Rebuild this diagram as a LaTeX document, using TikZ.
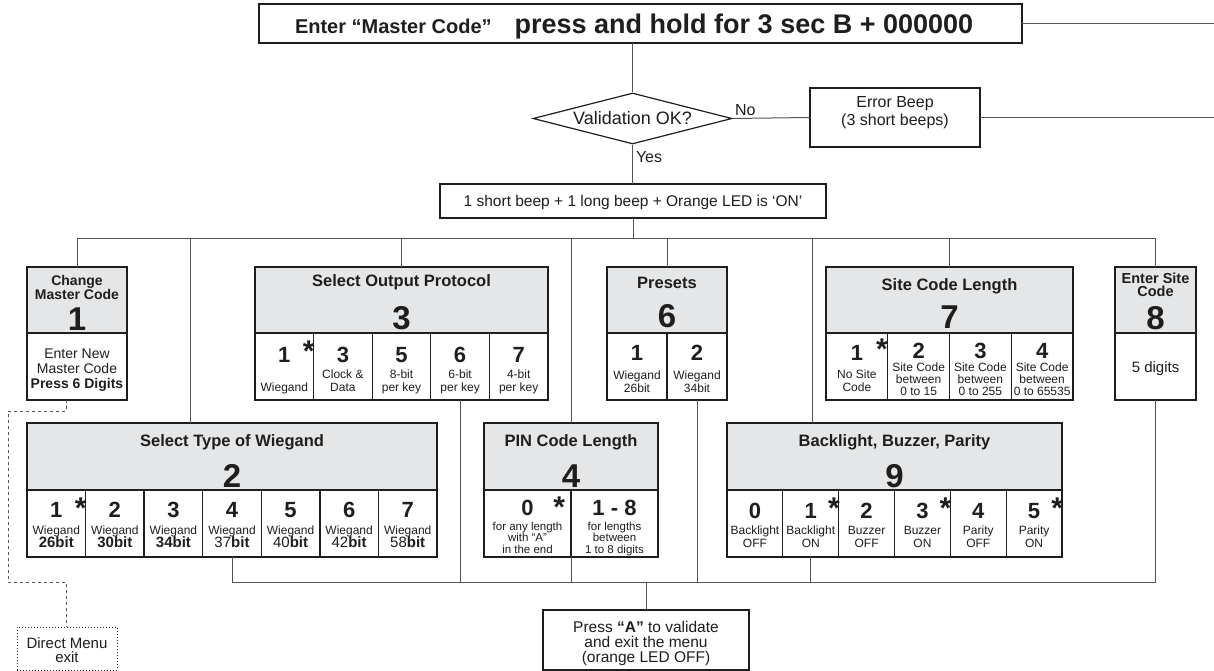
\documentclass[tikz,border=0pt]{standalone}
\usepackage{fontspec}
\setmainfont{Liberation Sans}
\usetikzlibrary{shapes.geometric,calc}
\definecolor{ink}{HTML}{1E1E1E}
\definecolor{hdr}{HTML}{E5E6E7}
\definecolor{wirec}{HTML}{555555}
\newcommand\fs[1]{\fontsize{#1}{#1}\selectfont}
\newcommand\ML[2]{\vbox{\baselineskip=#1\lineskiplimit=-\maxdimen\lineskip=0pt\halign{\hfil##\hfil\cr#2\crcr}}}
\newcommand\rbox[6]{\pgfmathsetmacro\rbw{#5-#3}\pgfmathsetmacro\rbh{#6-#4}%
  \node[#1, minimum width=\rbw pt, minimum height=\rbh pt] (#2) at (#3,#4) {};}
\newcommand\cellx[9]{\rbox{frame}{#1}{#2}{#4}{#3}{#5}%
  \node[txt,celld] (#1d) at ($(#1.north)+(0,#7)$) {#6};%
  \node[txt,small] (#1t) at ($(#1.south)+(0,-#8)$) {#9};}
\tikzset{
  frame/.style={draw=ink, line width=1.3pt, inner sep=0, outer sep=0, anchor=north west},
  head/.style={frame, fill=hdr},
  wire/.style={draw=wirec, line width=1pt},
  txt/.style={inner sep=0, outer sep=0, text=ink, anchor=base},
  hfont/.style={font=\bfseries\fs{16.5}},
  bigd/.style={font=\bfseries\fs{33}},
  celld/.style={font=\bfseries\fs{22}},
  small/.style={font=\fs{12}},
  star/.style={inner sep=0, outer sep=0, text=ink, anchor=base east, text depth=0pt, font=\bfseries\fs{30}},
}
\begin{document}
\begin{tikzpicture}[x=1pt,y=-1pt]
\useasboundingbox (0,0) rectangle (1214,671);
\fill[white] (0,0) rectangle (1214,671);

% ---------- top part ----------
\rbox{frame}{top}{259}{4}{1022}{43}
\node[txt,anchor=base west] (toptxt) at (295,34) {{\bfseries\fs{20}Enter “Master Code”}\hspace{23pt}{\bfseries\fs{27}press and hold for 3 sec B + 000000}};
\coordinate (exit1) at (1214,23.5);
\draw[wire] (top.east) -- (exit1);

\node[draw=ink, line width=1.2pt, diamond, aspect=3.9, minimum width=199pt, minimum height=51pt, inner sep=0, font=\fs{18}, text=ink] (diam) at (632.5,118.5) {Validation OK?};
\draw[wire] (top.south -| diam.north) -- (diam.north);
\node[txt,anchor=base west,font=\fs{16}] (no) at (735,116) {No};
\rbox{frame}{err}{810}{88}{980}{147}
\node[txt,font=\fs{16}] (errt) at (895,126) {\ML{18pt}{Error Beep\cr(3 short beeps)}};
\draw[wire] (diam.east) -- (err.west);
\coordinate (exit2) at (1214,117.5);
\draw[wire] (err.east) -- (exit2);
\node[txt,anchor=base west,font=\fs{16}] (yes) at (636,163) {Yes};
\rbox{frame}{beep}{440}{184}{826}{218}
\node[txt,font=\fs{15.5}] (beept) at (633,206) {1 short beep + 1 long beep + Orange LED is ‘ON’};
\draw[wire] (diam.south) -- (diam.south |- beep.north);

% ---------- box 1 ----------
\rbox{head}{b1h}{27}{267}{127}{333}
\node[txt,font=\bfseries\fs{14}] (b1ht) at (77,299) {\ML{13.5pt}{Change\cr Master Code}};
\node[txt,bigd] (b1hd) at (77,330) {1};
\rbox{frame}{b1b}{27}{333}{127}{400}
\node[txt,font=\fs{14}] (b1bt) at (77,388) {\ML{15pt}{Enter New\cr Master Code\cr\textbf{Press 6 Digits}}};

% ---------- box 3 ----------
\rbox{head}{b3h}{255}{267}{548}{333}
\node[txt,hfont] (b3ht) at (401.5,286) {Select Output Protocol};
\node[txt,bigd] (b3hd) at (401.5,329) {3};
\cellx{b3c1}{255}{313.6}{333}{400}{1}{29}{9}{Wiegand}
\cellx{b3c2}{313.6}{372.2}{333}{400}{3}{29}{9}{\ML{12.5pt}{Clock \&\cr Data}}
\cellx{b3c3}{372.2}{430.8}{333}{400}{5}{29}{9}{\ML{12.5pt}{8-bit\cr per key}}
\cellx{b3c4}{430.8}{489.4}{333}{400}{6}{29}{9}{\ML{12.5pt}{6-bit\cr per key}}
\cellx{b3c5}{489.4}{548}{333}{400}{7}{29}{9}{\ML{12.5pt}{4-bit\cr per key}}
\node[star] (b3s) at ($(b3c1.north east)+(1,28)$) {*};

% ---------- box 6 ----------
\rbox{head}{b6h}{607}{267}{727}{333}
\node[txt,hfont] (b6ht) at (667,288) {Presets};
\node[txt,bigd] (b6hd) at (667,327) {6};
\cellx{b6c1}{607}{667}{333}{400}{1}{27}{8}{\ML{12.5pt}{Wiegand\cr 26bit}}
\cellx{b6c2}{667}{727}{333}{400}{2}{27}{8}{\ML{12.5pt}{Wiegand\cr 34bit}}

% ---------- box 7 ----------
\rbox{head}{b7h}{826}{267}{1073}{333}
\node[txt,hfont] (b7ht) at (949.5,290) {Site Code Length};
\node[txt,bigd] (b7hd) at (949.5,328) {7};
\cellx{b7c1}{826}{887.75}{333}{400}{1}{27}{9}{\ML{12.5pt}{No Site\cr Code}}
\cellx{b7c2}{887.75}{949.5}{333}{400}{2}{25}{5}{\ML{12pt}{Site Code\cr between\cr 0 to 15}}
\cellx{b7c3}{949.5}{1011.25}{333}{400}{3}{25}{5}{\ML{12pt}{Site Code\cr between\cr 0 to 255}}
\cellx{b7c4}{1011.25}{1073}{333}{400}{4}{25}{5}{\ML{12pt}{Site Code\cr between\cr 0 to 65535}}
\node[star] (b7s) at ($(b7c1.north east)+(0,26)$) {*};

% ---------- box 8 ----------
\rbox{head}{b8h}{1115}{267}{1196}{333}
\node[txt,font=\bfseries\fs{14.5}] (b8ht) at (1155.5,296) {\ML{12.5pt}{Enter Site\cr Code}};
\node[txt,bigd] (b8hd) at (1155.5,329) {8};
\rbox{frame}{b8b}{1115}{333}{1196}{400}
\node[txt,font=\fs{15}] (b8bt) at (1155.5,372) {5 digits};

% ---------- box 2 ----------
\rbox{head}{b2h}{27}{423}{437}{490}
\node[txt,hfont] (b2ht) at (232,446.7) {Select Type of Wiegand};
\node[txt,bigd] (b2hd) at (232,487) {2};
\cellx{b2c1}{27}{85.57}{490}{557}{1}{27.5}{10}{\ML{13pt}{Wiegand\cr\textbf{\fs{15}26bit}}}
\cellx{b2c2}{85.57}{144.14}{490}{557}{2}{27.5}{10}{\ML{13pt}{Wiegand\cr\textbf{\fs{15}30bit}}}
\cellx{b2c3}{144.14}{202.71}{490}{557}{3}{27.5}{10}{\ML{13pt}{Wiegand\cr\textbf{\fs{15}34bit}}}
\cellx{b2c4}{202.71}{261.29}{490}{557}{4}{27.5}{10}{\ML{13pt}{Wiegand\cr{\fs{15}37\textbf{bit}}}}
\cellx{b2c5}{261.29}{319.86}{490}{557}{5}{27.5}{10}{\ML{13pt}{Wiegand\cr{\fs{15}40\textbf{bit}}}}
\cellx{b2c6}{319.86}{378.43}{490}{557}{6}{27.5}{10}{\ML{13pt}{Wiegand\cr{\fs{15}42\textbf{bit}}}}
\cellx{b2c7}{378.43}{437}{490}{557}{7}{27.5}{10}{\ML{13pt}{Wiegand\cr{\fs{15}58\textbf{bit}}}}
\node[star] (b2s) at ($(b2c1.north east)+(1,28)$) {*};

% ---------- box 4 ----------
\rbox{head}{b4h}{484}{423}{658}{490}
\node[txt,hfont] (b4ht) at (571,446.7) {PIN Code Length};
\node[txt,bigd] (b4hd) at (571,487) {4};
\cellx{b4c1}{484}{571}{490}{557}{0}{25}{4}{\ML{11.5pt}{\fs{11.5}for any length\cr\fs{11.5}with “A”\cr\fs{11.5}in the end}}
\cellx{b4c2}{571}{658}{490}{557}{1 - 8}{25}{4}{\ML{11.5pt}{\fs{11.5}for lengths\cr\fs{11.5}between\cr\fs{11.5}1 to 8 digits}}
\node[star] (b4s) at ($(b4c1.north east)+(-6,27)$) {*};

% ---------- box 9 ----------
\rbox{head}{b9h}{727}{423}{1062}{490}
\node[txt,hfont] (b9ht) at (894.5,446.7) {Backlight, Buzzer, Parity};
\node[txt,bigd] (b9hd) at (894.5,487) {9};
\cellx{b9c0}{727}{782.83}{490}{557}{0}{28}{10}{\ML{12.5pt}{Backlight\cr OFF}}
\cellx{b9c1}{782.83}{838.67}{490}{557}{1}{28}{10}{\ML{12.5pt}{Backlight\cr ON}}
\cellx{b9c2}{838.67}{894.5}{490}{557}{2}{28}{10}{\ML{12.5pt}{Buzzer\cr OFF}}
\cellx{b9c3}{894.5}{950.33}{490}{557}{3}{28}{10}{\ML{12.5pt}{Buzzer\cr ON}}
\cellx{b9c4}{950.33}{1006.17}{490}{557}{4}{28}{10}{\ML{12.5pt}{Parity\cr OFF}}
\cellx{b9c5}{1006.17}{1062}{490}{557}{5}{28}{10}{\ML{12.5pt}{Parity\cr ON}}
\node[star] (b9s1) at ($(b9c1.north east)+(1,28)$) {*};
\node[star] (b9s3) at ($(b9c3.north east)+(1,28)$) {*};
\node[star] (b9s5) at ($(b9c5.north east)+(1,28)$) {*};

% ---------- top bus ----------
\coordinate (busL) at (77,238);
\coordinate (d2) at (190,238);
\coordinate (d9) at (812,238);
\draw[wire] (beep.south) -- (beep.south |- busL);
\draw[wire] (b1h.north) -- (b1h.north |- busL) -- (b8h.north |- busL) -- (b8h.north);
\draw[wire] (b3h.north) -- (b3h.north |- busL);
\draw[wire] (b6h.north) -- (b6h.north |- busL);
\draw[wire] (b7h.north) -- (b7h.north |- busL);
\draw[wire] (b4h.north) -- (b4h.north |- busL);
\draw[wire] (d2) -- (d2 |- b2h.north);
\draw[wire] (d9) -- (d9 |- b9h.north);

% ---------- final box & bottom bus ----------
\rbox{frame}{fin}{543}{610}{749}{670}
\node[txt,font=\fs{15.5}] (fint) at (646,662) {\ML{15pt}{Press \textbf{“A”} to validate\cr and exit the menu\cr (orange LED OFF)}};
\coordinate (bbL) at (232,582);
\draw[wire] (b2c4.south) -- (b2c4.south |- bbL) -- (b8b.south |- bbL) -- (b8b.south);
\draw[wire] (b3c4.south) -- (b3c4.south |- bbL);
\draw[wire] (b4c2.south west) -- (b4c2.south west |- bbL);
\draw[wire] (b6c2.south) -- (b6c2.south |- bbL);
\draw[wire] (b9c1.south) -- (b9c1.south |- bbL);
\draw[wire] (fin.north) -- (fin.north |- bbL);

% ---------- direct exit ----------
\node[draw=ink, dotted, line width=1pt, inner sep=0, outer sep=0, anchor=north west, minimum width=100pt, minimum height=43pt] (direct) at (17,627) {};
\node[txt,font=\fs{15}] (directt) at (67,662) {\ML{14pt}{Direct Menu\cr exit}};
\coordinate (k1) at (66,411);
\coordinate (k2) at (8,411);
\coordinate (k3) at (8,582);
\coordinate (k4) at (66,582);
\draw[wire, dashed] (b1b.south -| k1) -- (k1) -- (k2) -- (k3) -- (k4) -- (k4 |- direct.north);
\end{tikzpicture}
\end{document}
